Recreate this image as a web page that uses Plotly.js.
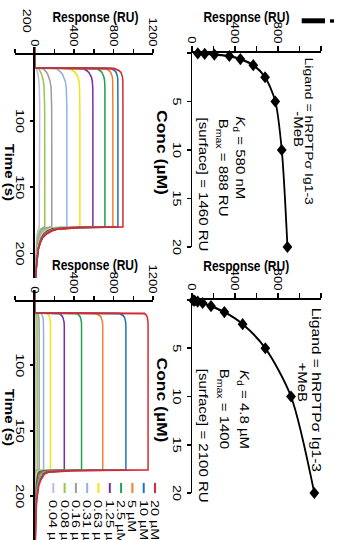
<!DOCTYPE html>
<html><head><meta charset="utf-8">
<script src="https://cdn.plot.ly/plotly-3.0.1.min.js"></script>
<style>
html,body{margin:0;padding:0;background:#fff;overflow:hidden;width:345px;height:540px}
#wrap{position:absolute;left:0;top:0;width:432px;height:345px;transform-origin:0 0;transform:translate(345px,0) rotate(90deg) scale(1.25,1);}
</style></head>
<body><div id="wrap"></div>
<script>
// ---- data ----
const conc = [0.04, 0.08, 0.16, 0.31, 0.63, 1.25, 2.5, 5, 10, 20];
const respMinusMeB = [54, 118, 208, 347, 450, 570, 680, 775, 835, 888];
const respPlusMeB  = [12, 25, 53, 99, 177, 301, 471, 682, 921, 1138];

const concLabels = ['0.04 µM','0.08 µM','0.16 µM','0.31 µM','0.63 µM','1.25 µM','2.5 µM','5 µM','10 µM','20 µM'];
const colors = ['#c8b8dc','#93c84a','#9c9c9c','#8fb3e0','#f5e21a','#7a2f9d','#19a54b','#f37f2b','#1f73c2','#d62a2f'];

// sensorgram, -MeB
const tMinus = [44, 59.9, 60.4, 61, 62, 63.5, 65, 67, 70, 75, 90, 120, 150, 179.9, 180.5, 181.5, 183, 185, 188, 192, 197, 204, 212, 219];
const m004 = [0,0,17,20,24,29,34,38,43,47,50.5,51,51,51, 46,38,31,26,21,17,13,10,8,6];
const m008 = [0,0,41,46,54,64,71,79,88,95,101,102,102,102, 85,62,48,38,30,23,18,13,10,8];
const m016 = [0,0,86,95,107,122,133,145,156,166,172,173,173,173, 130,85,64,50,38,29,22,16,12,9];
const m031 = [0,0,218,230,248,268,283,297,310,320,326,326,326,326, 210,120,90,68,50,37,27,19,13,10];
const m063 = [0,0,357,371,391,412,426,439,449,455,458,458,458,458, 270,150,110,82,60,43,30,21,14,10];
const m125 = [0,0,490,506,528,550,565,576,584,589,590,590,590,590, 330,180,130,95,68,48,33,22,15,10];
const m25  = [0,0,627,643,663,683,695,703,709,712,712,712,712,712, 380,205,150,108,75,52,35,23,15,10];
const m5   = [0,0,722,737,756,772,782,788,791,793,793,793,793,793, 410,220,160,115,78,54,36,23,15,10];
const m10  = [0,0,776,793,811,827,836,841,843,844,844,844,844,844, 430,230,168,120,80,55,36,23,15,10];
const m20  = [0,0,806,829,855,876,886,891,894,895,895,895,895,895, 450,240,175,125,82,56,37,23,15,10];

// sensorgram, +MeB
const tPlus = [42, 59.9, 60.4, 61, 62, 63.5, 65, 67, 70, 75, 90, 120, 150, 179.9, 180.5, 181.5, 183, 185, 188, 192, 197, 204, 212, 220, 234];
const p004 = [0,0,8,9,10,11,11.5,12,12,12,12,12,12,12, 6,4,3,3,2.5,2,2,1.5,1,1,1];
const p008 = [0,0,17,19,21,23,24,24.5,25,25,25,25,25,25, 11,6,5,4.5,4,3.5,3,2.5,2,1.5,1];
const p016 = [0,0,32,35,39,42,43.5,44.5,45,45,45,45,45,45, 18,10,8,7,6,5,4,3,2.5,2,1.5];
const p031 = [0,0,68,73,79,84,87,89,90,90,90,90,90,90, 34,17,13,11,9,7,6,4.5,3.5,3,2];
const p063 = [0,0,128,136,145,152,156,159,160,160,160,160,160,160, 58,26,19,16,13,10,8,6,5,4,3];
const p125 = [0,0,250,262,275,287,294,298,300,300,300,300,300,300, 105,45,32,26,21,16,12,9,7,5,3];
const p25  = [0,0,430,442,454,465,470,474,475,475,475,475,475,475, 165,68,48,39,31,23,17,12,9,6,4];
const p5   = [0,0,625,642,660,675,683,688,690,690,690,690,690,690, 240,95,66,53,41,30,22,15,11,8,5];
const p10  = [0,0,862,880,898,912,919,923,925,925,925,925,925,925, 320,125,85,68,52,37,27,18,13,9,6];
const p20  = [0,0,1115,1125,1135,1143,1147,1149,1150,1150,1150,1150,1150,1150, 400,150,100,80,60,42,30,20,14,10,7];

const minusSeries = [m004,m008,m016,m031,m063,m125,m25,m5,m10,m20];
const plusSeries  = [p004,p008,p016,p031,p063,p125,p25,p5,p10,p20];

// tick labels
const respTopVals = [0,200,400,600,800,1000,1200];
const respTopText = ['0','','400','','800','',''];
const respBotVals = [-200,0,200,400,600,800,1000,1200];
const respBotText = ['','0','','400','','800','','1200'];
const concTickVals = [0,5,10,15,20];
const concTickText = ['','5','10','15','20'];
const timeTickVals = [100,150,200];

// ---- figure ----
const F = 'Liberation Sans, Arial, sans-serif';
const W = 540, H = 345; // visual frame (before stretch)
const px = xo => xo / W;
const py = yo => (H - yo) / H;

const traces = [];
traces.push({x: conc, y: respMinusMeB, xaxis:'x', yaxis:'y', type:'scatter', mode:'lines+markers',
  line:{color:'#000', width:1.8, shape:'spline', smoothing:0.8},
  marker:{symbol:'diamond', size:7.5, color:'#000'}, cliponaxis:false});
traces.push({x: conc, y: respPlusMeB, xaxis:'x2', yaxis:'y2', type:'scatter', mode:'lines+markers',
  line:{color:'#000', width:1.8, shape:'spline', smoothing:0.8},
  marker:{symbol:'diamond', size:7.5, color:'#000'}, cliponaxis:false});
minusSeries.forEach((s,i) => traces.push({x: tMinus, y: s, xaxis:'x3', yaxis:'y3', type:'scatter', mode:'lines',
  line:{color: colors[i], width:1.5}}));
plusSeries.forEach((s,i) => traces.push({x: tPlus, y: s, xaxis:'x4', yaxis:'y4', type:'scatter', mode:'lines',
  line:{color: colors[i], width:1.5}}));

const TF = {family:F, size:10.5, color:'#000'};
const axBase = {showgrid:false, zeroline:false, showline:true, linecolor:'#000', linewidth:1.5,
  ticks:'outside', tickcolor:'#000', tickwidth:1.5, tickfont:TF, fixedrange:true};

const yTop = Object.assign({}, axBase, {domain:[py(153), py(24)], range:[0,1200], tickmode:'array',
  tickvals: respTopVals, ticktext: respTopText, ticklen:4});
const xTop = Object.assign({}, axBase, {range:[0,20], tickmode:'array', tickvals: concTickVals, ticktext: concTickText, ticklen:4,
  tickfont:{family:F, size:11.5, color:'#000'}});
const yBot = Object.assign({}, axBase, {domain:[py(330), py(192)], range:[-200,1200], tickmode:'array',
  tickvals: respBotVals, ticktext: respBotText, ticklen:3, anchor:'free'});
const xBot = Object.assign({}, axBase, {tickmode:'array', tickvals: timeTickVals, ticklen:3, anchor:'free', position: py(310.3),
  tickfont:{family:F, size:11.5, color:'#000'}});

const ann = [];
function A(text, xo, yo, opts){ ann.push(Object.assign({text:text, x:px(xo), y:py(yo), xref:'paper', yref:'paper',
  showarrow:false, xanchor:'center', yanchor:'middle', font:{family:F, size:12, color:'#000'}}, opts||{})); }

A('<b>Response (RU)</b>', 17, 99, {textangle:-90});
A('<b>Response (RU)</b>', 266, 99, {textangle:-90});
A('<b>Response (RU)</b>', 17, 250, {textangle:-90});
A('<b>Response (RU)</b>', 265, 250, {textangle:-90});
A('<b>Conc (µM)</b>', 153, 183, {font:{family:F, size:14, color:'#000'}});
A('<b>Conc (µM)</b>', 400, 183, {font:{family:F, size:14, color:'#000'}});
A('<b>Time (s)</b>', 172, 336);
A('<b>Time (s)</b>', 417, 336);

A('Ligand = hRPTPσ Ig1-3', 55, 36, {xanchor:'left', font:{family:F, size:11.2, color:'#000'}});
A('-MeB', 129, 47.5);
A('<i>K</i><sub>d</sub> = 580 nM', 114, 106, {xanchor:'left'});
A('B<sub>max</sub> = 888 RU', 116, 123, {xanchor:'left'});
A('[surface] = 1460 RU', 115, 142, {xanchor:'left'});

A('Ligand = hRPTPσ Ig1-3', 305, 29, {xanchor:'left', font:{family:F, size:12.5, color:'#000'}});
A('+MeB', 383, 43);
A('<i>K</i><sub>d</sub> = 4.8 µM', 368, 102, {xanchor:'left'});
A('B<sub>max</sub> = 1400', 366, 122, {xanchor:'left'});
A('[surface] = 2100 RU', 366, 142, {xanchor:'left'});

A('200', 21, 318, {font:{family:F, size:11.5, color:'#000'}});

const shapes = [];
// legend (20 µM at top)
for (let k = 0; k < concLabels.length; k++) {
  const i = concLabels.length - 1 - k;
  const yo = 190 + k * 11.3;
  shapes.push({type:'line', xref:'paper', yref:'paper', x0:px(483), x1:px(493), y0:py(yo), y1:py(yo),
    line:{color: colors[i], width:2}});
  A(concLabels[i], 497, yo, {xanchor:'left', font:{family:F, size:11.5, color:'#000'}});
}
// fragments of a neighbouring panel
shapes.push({type:'rect', xref:'paper', yref:'paper', x0:px(18.3), x1:px(23.3), y0:py(43.3), y1:py(20), fillcolor:'#000', line:{width:0}});
shapes.push({type:'rect', xref:'paper', yref:'paper', x0:px(19.3), x1:px(22.7), y0:py(15), y1:py(11), fillcolor:'#000', line:{width:0}});

const layout = {
  width: 432, height: 345, margin:{l:0,r:0,t:0,b:0}, showlegend:false,
  paper_bgcolor:'#fff', plot_bgcolor:'rgba(0,0,0,0)', hovermode:false,
  font:{family:F, size:12, color:'#000'},
  xaxis: Object.assign({}, xTop, {domain:[px(53), px(247)], anchor:'y'}),
  yaxis: Object.assign({}, yTop, {anchor:'x'}),
  xaxis2: Object.assign({}, xTop, {domain:[px(300), px(493)], anchor:'y2'}),
  yaxis2: Object.assign({}, yTop, {anchor:'x2'}),
  xaxis3: Object.assign({}, xBot, {domain:[px(47), px(278)], range:[44.2, 218.5]}),
  yaxis3: Object.assign({}, yBot, {position: px(53)}),
  xaxis4: Object.assign({}, xBot, {domain:[px(290), 1], range:[42.4, 233.5]}),
  yaxis4: Object.assign({}, yBot, {position: px(300)}),
  annotations: ann, shapes: shapes
};
Plotly.newPlot('wrap', traces, layout, {staticPlot:true, displayModeBar:false});
</script>
</body></html>
